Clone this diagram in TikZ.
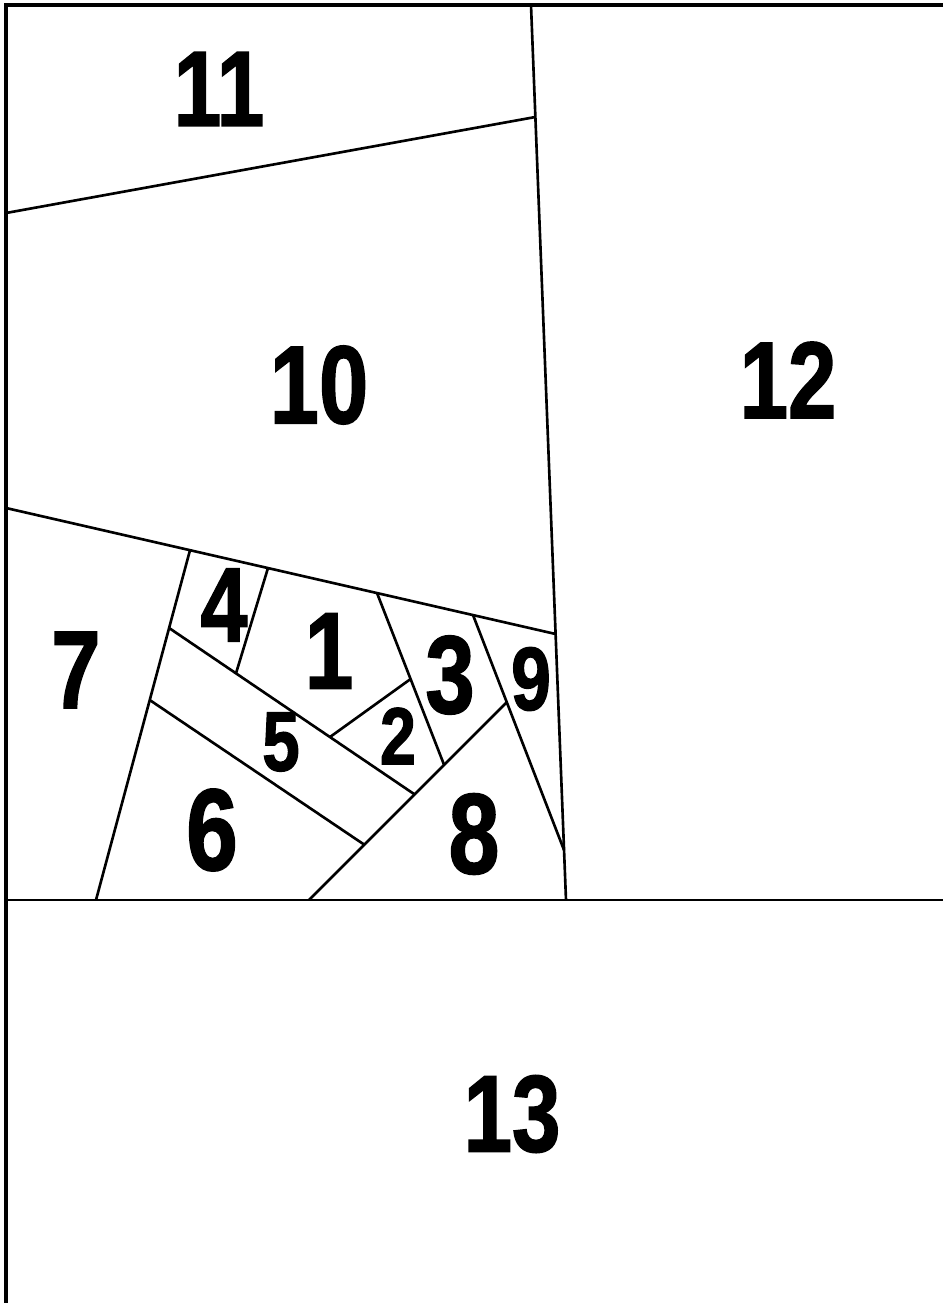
\documentclass[tikz,border=0pt]{standalone}
\usepackage{fontspec}
\newfontfamily\blockfont{Liberation Sans}[BoldFeatures={FakeBold=1.6}]
\usetikzlibrary{calc}

\begin{document}
\begin{tikzpicture}[x=0.2mm,y=-0.2mm,line width=1.5pt,
  num/.style={font=\blockfont\bfseries\fontsize{#1}{#1}\selectfont,inner sep=0pt,transform shape,xscale=.8}]
\useasboundingbox (0,0) rectangle (943,1303);

\coordinate (corner) at (6,5);
\coordinate (top_end) at (943,5);
\coordinate (left_end) at (6,1303);
\coordinate (div_top) at (531,5);
\coordinate (div_bot) at (566,900);
\coordinate (seam_l) at (6,900);
\coordinate (seam_r) at (943,900);
\coordinate (cut_11_l) at (6,213);
\coordinate (cut_11_r) at (535.4,117);
\coordinate (cut_10_l) at (6,508);
\coordinate (cut_10_r) at (555.6,634);
\coordinate (cut_7_t) at (190,550.2);
\coordinate (cut_7_b) at (96,900);
\coordinate (cut_4_t) at (268,568);
\coordinate (cut_4_b) at (236,673.3);
\coordinate (cut_5_l) at (169.1,628);
\coordinate (cut_5_r) at (414.6,794.4);
\coordinate (cut_6_l) at (149.7,700);
\coordinate (cut_6_r) at (364.3,844.7);
\coordinate (cut_3_t) at (377,593);
\coordinate (cut_3_b) at (444.1,764.9);
\coordinate (cut_2_l) at (330,737);
\coordinate (cut_2_r) at (410.6,679);
\coordinate (cut_9_t) at (473,615);
\coordinate (cut_9_b) at (564,850);
\coordinate (cut_8_t) at (506.8,702.2);
\coordinate (cut_8_b) at (309,900);

\draw[line width=2pt](top_end) -- (corner) -- (left_end);
\draw(div_top) -- (div_bot);
\draw(seam_l) -- (seam_r);
\draw(cut_11_l) -- (cut_11_r);
\draw(cut_10_l) -- (cut_10_r);
\draw(cut_7_t) -- (cut_7_b);
\draw(cut_4_t) -- (cut_4_b);
\draw(cut_5_l) -- (cut_5_r);
\draw(cut_6_l) -- (cut_6_r);
\draw(cut_3_t) -- (cut_3_b);
\draw(cut_2_l) -- (cut_2_r);
\draw(cut_9_t) -- (cut_9_b);
\draw(cut_8_b) -- (cut_8_t);

\node[name=piece_1, num=62] at (329,651) {1};
\node[name=piece_2, num=46] at (398,736) {2};
\node[name=piece_3, num=63] at (450,675) {3};
\node[name=piece_4, num=60] at (224,605) {4};
\node[name=piece_5, num=48] at (281,742) {5};
\node[name=piece_6, num=66] at (212,830) {6};
\node[name=piece_7, num=63] at (76,670) {7};
\node[name=piece_8, num=65] at (474,834) {8};
\node[name=piece_9, num=51] at (531,679) {9};
\node[name=piece_10, num=63] at (319,385) {10};
\node[name=piece_11, num=61] at (219,89) {11};
\node[name=piece_12, num=62] at (788,380) {12};
\node[name=piece_13, num=62] at (512,1114) {13};

\end{tikzpicture}
\end{document}
